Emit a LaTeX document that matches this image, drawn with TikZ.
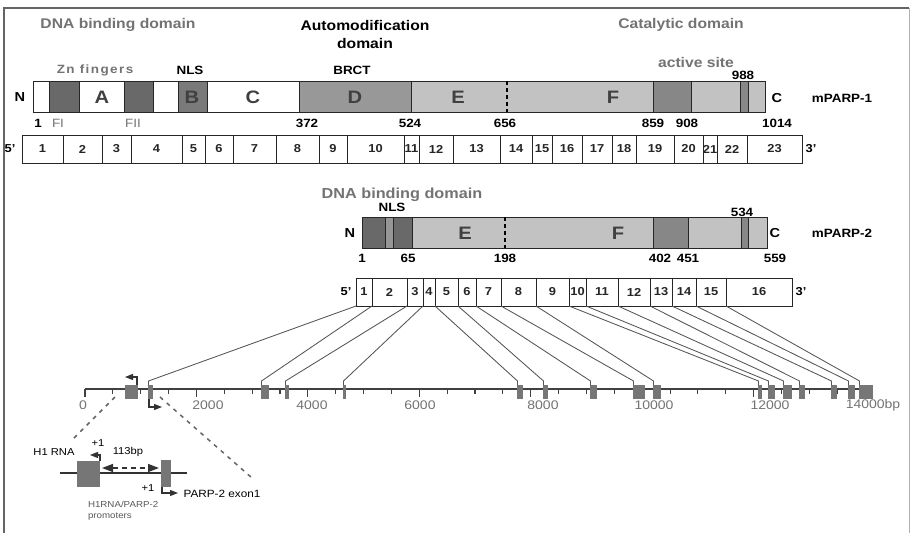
\documentclass[tikz,border=0pt]{standalone}
\usepackage{fontspec}
\setmainfont[FakeStretch=1.12]{Liberation Sans}
\usetikzlibrary{arrows.meta}
\definecolor{txtgray}{RGB}{115,115,115}
\definecolor{dkbox}{RGB}{105,105,105}
\definecolor{bbox}{RGB}{122,122,122}
\definecolor{dbox}{RGB}{152,152,152}
\definecolor{ltbox}{RGB}{194,194,194}
\definecolor{asbox}{RGB}{135,135,135}
\definecolor{nlsmid}{RGB}{150,150,150}
\definecolor{linegray}{RGB}{85,85,85}
\definecolor{exfill}{RGB}{118,118,118}
\definecolor{framegray}{RGB}{100,100,100}
\newcommand{\myfs}[1]{\fontsize{#1}{#1}\selectfont}
\begin{document}
\begin{tikzpicture}[x=1pt,y=-1pt,
  every node/.style={inner sep=0pt, outer sep=0pt},
  head/.style={font=\myfs{14}\bfseries},
  ghead/.style={head, text=txtgray},
  lbl/.style={font=\myfs{12}\bfseries},
  glbl/.style={font=\myfs{12}, text=txtgray},
  big/.style={font=\myfs{18}\bfseries, text=black!75},
  exn/.style={font=\myfs{11.5}\bfseries, text=black!85},
  axl/.style={font=\myfs{12.5}, text=txtgray},
  ins/.style={font=\myfs{10}},
  seg/.style={draw=black!85, line width=0.8pt},
  link/.style={draw=linegray, line width=0.85pt},
  gex/.style={fill=exfill},
  bent/.style={draw=black!80, line width=1.1pt, -{Triangle[length=8pt,width=6pt]}},
  zoomdash/.style={draw=black!60, line width=1.5pt, dash pattern=on 4pt off 5pt},
]
\useasboundingbox (0,0) rectangle (914,533);
\fill[white] (0,0) rectangle (914,533);
% frame
\draw[framegray, line width=1.8pt] (4,533) -- (4,8) -- (909,8);
\draw[framegray!50, line width=0.8pt] (909,8) -- (909,533);

% ---------- headings ----------
\node[ghead] (hdna) at (118,25) {DNA binding domain};
\node[head, align=center, font=\fontsize{14}{18}\selectfont\bfseries] (hauto) at (365,34) {Automodification\\domain};
\node[ghead] (hcat) at (681,25) {Catalytic domain};
\node[font=\myfs{12}\bfseries\addfontfeature{LetterSpace=12}, text=txtgray] (hzn) at (95,70) {Zn fingers};
\node[lbl] (hnls1) at (190,70) {NLS};
\node[lbl] (hbrct) at (352,70) {BRCT};
\node[font=\myfs{14}\bfseries, text=txtgray] (hact) at (696,62) {active site};
\node[lbl] (n988) at (743,75) {988};

% ---------- PARP-1 bar ----------
\foreach \a/\b/\c in {33/49/white, 49/79/dkbox, 79/124/white, 124/153/dkbox,
  153/178/white, 178/207/bbox, 207/299/white, 299/411/dbox, 411/653/ltbox,
  653/691/asbox, 691/740/ltbox, 740/748/asbox, 748/765/ltbox}
  \path[seg, fill=\c] (\a,81) rectangle (\b,112);
\draw[black, line width=1.3pt, dash pattern=on 4pt off 3pt] (507,81) -- (507,112);
\node[big] (pA) at (102,97) {A};
\node[big] (pB) at (192,97) {B};
\node[big] (pC) at (253,97) {C};
\node[big] (pD) at (355,97) {D};
\node[big] (pE) at (458,97) {E};
\node[big] (pF) at (613,97) {F};
\node[font=\myfs{13}\bfseries] (p1N) at (20,97) {N};
\node[font=\myfs{13}\bfseries] (p1C) at (777,98) {C};
\node[lbl] (p1name) at (842,98) {mPARP-1};
\node[lbl] (p1n1) at (38,123) {1};
\node[glbl] (pFI) at (58,123) {FI};
\node[glbl] (pFII) at (133,123) {FII};
\node[lbl] (p1n372) at (307,123) {372};
\node[lbl] (p1n524) at (410,123) {524};
\node[lbl] (p1n656) at (505,123) {656};
\node[lbl] (p1n859) at (653,123) {859};
\node[lbl] (p1n908) at (687,123) {908};
\node[lbl] (p1n1014) at (777,123) {1014};

% ---------- PARP-1 exons ----------
\draw[seg] (22,135) rectangle (802,163);
\foreach \l/\r/\n in {22/63/1, 63/102/2, 102/131/3, 131/182/4, 182/205/5, 205/233/6,
  233/276/7, 276/319/8, 319/347/9, 347/404/10, 404/419/11, 419/453/12, 453/500/13,
  500/532/14, 532/552/15, 552/582/16, 582/612/17, 612/636/18, 636/674/19,
  674/703/20, 703/717/21, 717/747/22, 747/802/23} {
  \draw[seg] (\r,135) -- (\r,163);
  \node[exn] (ea\n) at ({(\l+\r)/2},149) {\n};
}
\node[lbl, font=\myfs{11.5}\bfseries] (ea5p) at (10,149) {5'};
\node[lbl, font=\myfs{11.5}\bfseries] (ea3p) at (811,149) {3'};

% ---------- PARP-2 bar ----------
\node[font=\myfs{14.5}\bfseries, text=txtgray] (hdna2) at (402,195) {DNA binding domain};
\node[lbl] (hnls2) at (392,207) {NLS};
\node[lbl] (n534) at (742,212) {534};
\foreach \a/\b/\c in {362/385/dkbox, 385/393/nlsmid, 393/412/dkbox, 412/653/ltbox,
  653/688/asbox, 688/741/ltbox, 741/748/asbox, 748/767/ltbox}
  \path[seg, fill=\c] (\a,217) rectangle (\b,248);
\draw[black, line width=1.3pt, dash pattern=on 4pt off 3pt] (505,217) -- (505,248);
\node[big] (qE) at (465,233) {E};
\node[big] (qF) at (618,233) {F};
\node[font=\myfs{13}\bfseries] (p2N) at (350,233) {N};
\node[font=\myfs{13}\bfseries] (p2C) at (775,233) {C};
\node[lbl] (p2name) at (842,233) {mPARP-2};
\node[lbl] (p2n1) at (362,258) {1};
\node[lbl] (p2n65) at (408,258) {65};
\node[lbl] (p2n198) at (505,258) {198};
\node[lbl] (p2n402) at (660,258) {402};
\node[lbl] (p2n451) at (688,258) {451};
\node[lbl] (p2n559) at (775,258) {559};

% ---------- PARP-2 exons ----------
\draw[seg] (356,278) rectangle (792,306);
\foreach \l/\r/\n in {356/372/1, 372/407/2, 407/423/3, 423/435/4, 435/458/5,
  458/476/6, 476/501/7, 501/536/8, 536/569/9, 569/586/10, 586/618/11,
  618/650/12, 650/672/13, 672/696/14, 696/726/15, 726/792/16} {
  \draw[seg] (\r,278) -- (\r,306);
  \node[exn] (eb\n) at ({(\l+\r)/2},292) {\n};
  \coordinate (t\n) at (\l,306);
}
\node[lbl, font=\myfs{11.5}\bfseries] (eb5p) at (346,292) {5'};
\node[lbl, font=\myfs{11.5}\bfseries] (eb3p) at (801,292) {3'};

% ---------- genomic axis ----------
\draw[black!75, line width=1.1pt] (85,389) -- (872,389);
\foreach \i in {0,...,28} {
  \pgfmathsetmacro{\tx}{85+\i*27.86}
  \pgfmathtruncatemacro{\md}{mod(\i,4)}
  \ifnum\md=0
    \draw[black!75, line width=1.1pt] (\tx,389) -- (\tx,397);
  \else
    \draw[black!75, line width=1.1pt] (\tx,389) -- (\tx,394);
  \fi
}
\node[axl] (ax0) at (83,405) {0};
\node[axl] (ax2) at (208,405) {2000};
\node[axl] (ax4) at (312,405) {4000};
\node[axl] (ax6) at (420,405) {6000};
\node[axl] (ax8) at (543,405) {8000};
\node[axl] (ax10) at (654,405) {10000};
\node[axl] (ax12) at (770,405) {12000};
\node[axl, font=\myfs{12.5}] (ax14) at (873,405) {14000bp};

% H1 RNA / promoter box on genome
\path[gex] (125,385) rectangle (138,399);
\coordinate (h1top) at (137,385);
\coordinate (h1tip) at (125,377);
\draw[bent] (h1top) |- (h1tip);
% genomic exons
\foreach \l/\r/\n in {148/153/1, 261/269/2, 285/289/3, 343/346/4, 517/523/5,
  543/548/6, 590/597/7, 633/645/8, 653/661/9, 758/762/10, 768/775/11,
  783/792/12, 799/805/13, 831/837/14, 848/855/15, 859/873/16} {
  \path[gex] (\l,385) rectangle (\r,399);
  \coordinate (g\n) at (\l+0.5,385);
}
\foreach \n in {1,...,16}
  \draw[link] (t\n) -- ([yshift=4pt]g\n) -- (g\n);
\coordinate (x1bot) at (149,399);
\coordinate (x1tip) at (162,407);
\draw[bent] (x1bot) |- (x1tip);

% zoom lines
\coordinate (zl1) at (115,397);
\coordinate (zl2) at (72,440);
\coordinate (zr1) at (160,397);
\coordinate (zr2) at (252,478);
\draw[zoomdash] (zl1) -- (zl2);
\draw[zoomdash] (zr1) -- (zr2);

% ---------- inset ----------
\draw[black!80, line width=1.3pt] (60,473) -- (187,473);
\path[gex] (77,461) rectangle (100,487);
\path[gex] (161,460) rectangle (171,487);
\coordinate (ih1) at (100,461);
\coordinate (ih1tip) at (90,455);
\draw[bent] (ih1) |- (ih1tip);
\coordinate (ipx) at (162,487);
\coordinate (ipxtip) at (178,493);
\draw[bent] (ipx) |- (ipxtip);
\coordinate (da) at (102,468);
\coordinate (db) at (159,468);
\draw[black!80, line width=1.4pt, dash pattern=on 5pt off 4pt,
  {Triangle[length=11pt,width=8pt]}-{Triangle[length=11pt,width=8pt]}] (da) -- (db);
\node[ins] (iH1) at (54,452) {H1 RNA};
\node[ins] (ip1a) at (98,443) {+1};
\node[ins] (i113) at (128,452) {113bp};
\node[ins] (ip1b) at (148,488) {+1};
\node[ins, font=\myfs{10.5}] (ipx2) at (222,494) {PARP-2 exon1};
\node[anchor=north west, align=left, font=\fontsize{8.7}{11}\selectfont, text=black!65] (iprom) at (88,501) {H1RNA/PARP-2\\promoters};
\end{tikzpicture}
\end{document}
